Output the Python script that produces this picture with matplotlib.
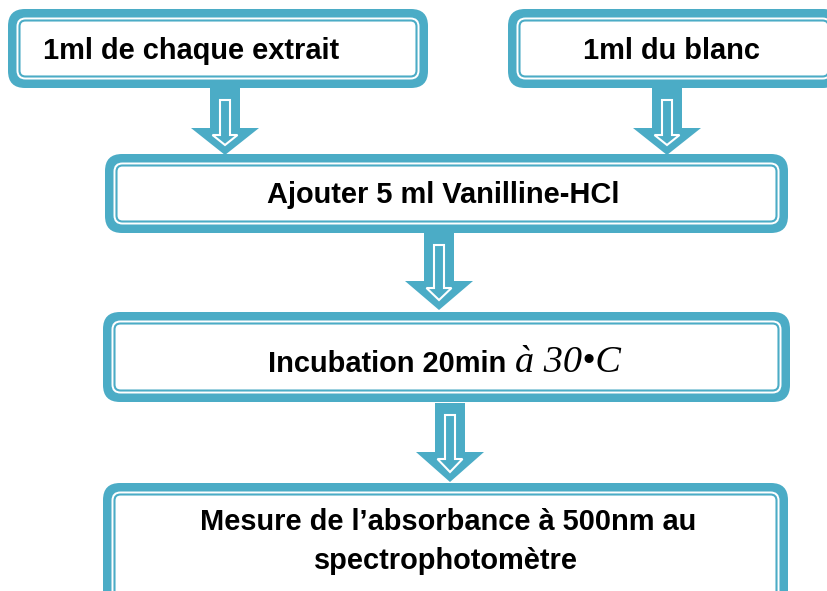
import matplotlib.pyplot as plt
from matplotlib.patches import FancyBboxPatch, Polygon

TEAL = "#4BACC6"

# box texts (top row, then the main steps)
top_labels = ["1ml de chaque extrait", "1ml du blanc"]
step_labels = ["Ajouter 5 ml Vanilline-HCl", "Incubation 20min"]
last_lines = ["Mesure de l\u2019absorbance \u00e0 500nm au", "spectrophotom\u00e8tre"]
temp_label = "\u00e0 30\u2022C"

# box geometry in pixels: (x0, y0, x1, y1)
boxes = [(8, 9, 428, 88), (508, 9, 840, 88), (105, 154, 788, 233), (103, 312, 790, 402), (103, 483, 788, 610)]
# arrows: (x centre, top, head start, tip)
arrows = [(225, 88, 128, 155), (667, 88, 128, 155), (439, 233, 281, 310), (450, 403, 452, 482)]

fig = plt.figure(figsize=(8.28, 5.91), dpi=100)
ax = fig.add_axes([0, 0, 1, 1])
ax.set_xlim(0, 828)
ax.set_ylim(591, 0)
ax.axis("off")


def draw_box(x0, y0, x1, y1):
    w, h = x1 - x0, y1 - y0
    ax.add_patch(FancyBboxPatch((x0, y0), w, h, boxstyle="round,pad=0,rounding_size=17",
                                fc=TEAL, ec="none"))
    ax.add_patch(FancyBboxPatch((x0 + 8.5, y0 + 8.5), w - 17, h - 17,
                                boxstyle="round,pad=0,rounding_size=9", fc="white", ec="none"))
    ax.add_patch(FancyBboxPatch((x0 + 11.5, y0 + 11.5), w - 23, h - 23,
                                boxstyle="round,pad=0,rounding_size=6", fc="white", ec=TEAL, lw=1.5))


def draw_arrow(xc, top, head, tip):
    outer = [(xc - 15, top), (xc + 15, top), (xc + 15, head), (xc + 34, head),
             (xc, tip), (xc - 34, head), (xc - 15, head)]
    ax.add_patch(Polygon(outer, closed=True, fc=TEAL, ec="none"))
    it, ih, ip = top + 12, head + 7, tip - 10
    inner = [(xc - 5, it), (xc + 5, it), (xc + 5, ih), (xc + 12.5, ih),
             (xc, ip), (xc - 12.5, ih), (xc - 5, ih)]
    ax.add_patch(Polygon(inner, closed=True, fc=TEAL, ec="white", lw=1.5))


for b in boxes:
    draw_box(*b)
for a in arrows:
    draw_arrow(*a)

sans = dict(family="Liberation Sans", fontweight="bold", fontsize=20.9, color="black")
ax.text(43, 59, top_labels[0], ha="left", va="baseline", **sans)
ax.text(672, 59, top_labels[1], ha="center", va="baseline", **sans)
ax.text(443, 203, step_labels[0], ha="center", va="baseline", **sans)
ax.text(268, 372, step_labels[1], ha="left", va="baseline", **sans)
ax.text(515, 372, temp_label, ha="left", va="baseline", family="Liberation Serif",
        style="italic", fontsize=27.5, color="black")
ax.text(448, 530, last_lines[0], ha="center", va="baseline", **sans)
ax.text(446, 569, last_lines[1], ha="center", va="baseline", **sans)

fig.savefig("out.png", dpi=100)
